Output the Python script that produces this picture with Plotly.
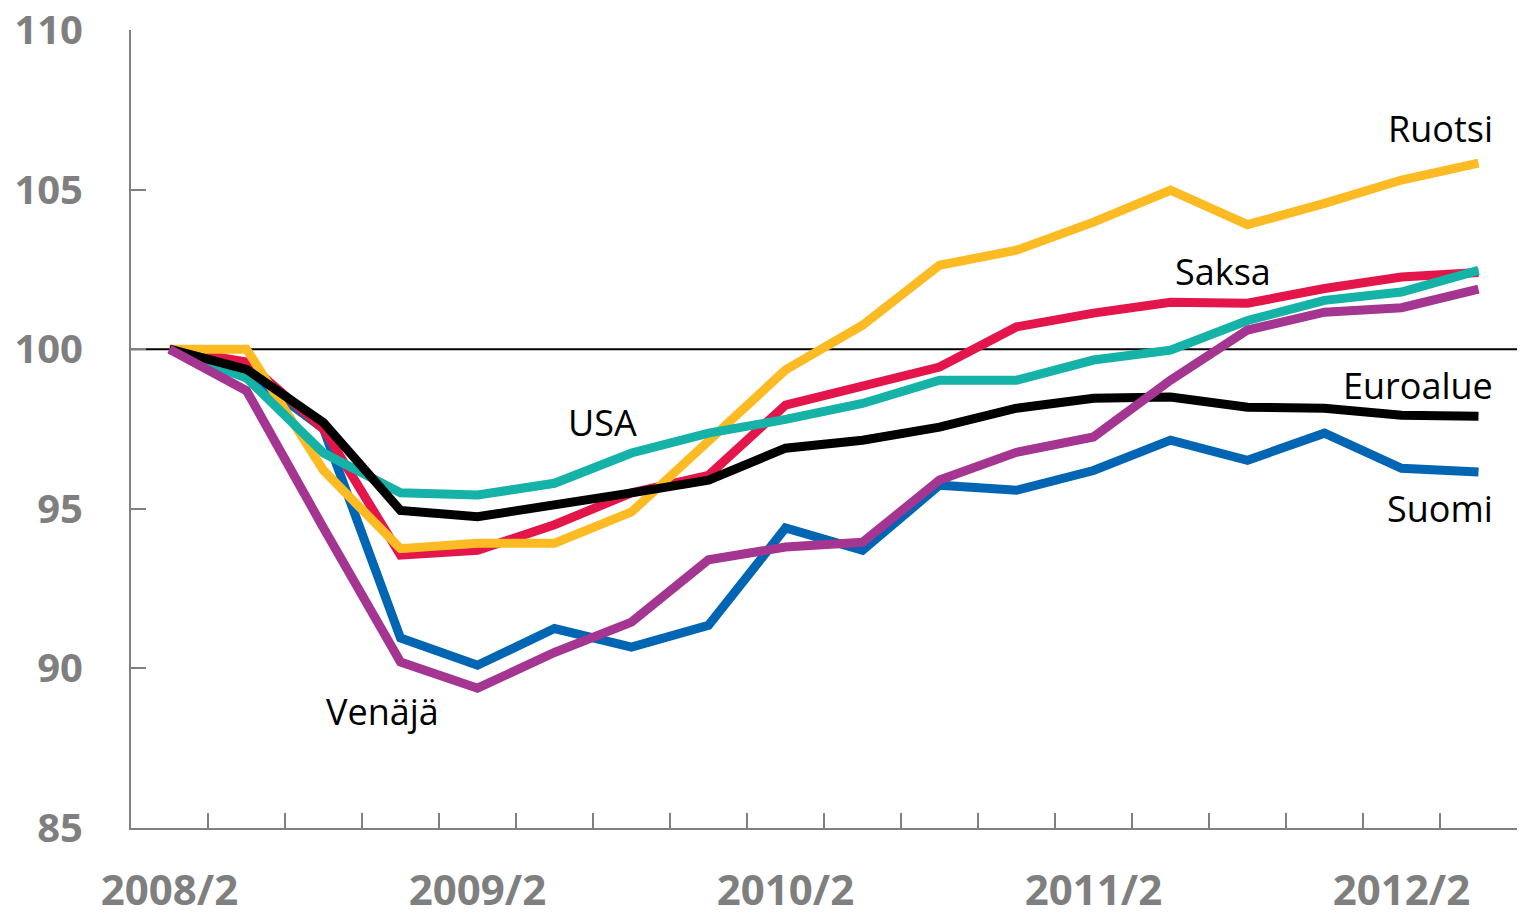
import plotly.graph_objects as go

quarters = ["2008/2", "2008/3", "2008/4", "2009/1", "2009/2", "2009/3", "2009/4", "2010/1",
            "2010/2", "2010/3", "2010/4", "2011/1", "2011/2", "2011/3", "2011/4", "2012/1",
            "2012/2", "2012/3"]

suomi = [100, 99.3, 97.5, 90.95, 90.1, 91.25, 90.67, 91.35, 94.4, 93.7, 95.74, 95.58, 96.2, 97.15, 96.52, 97.37, 96.27, 96.15]
saksa = [100, 99.6, 97.5, 93.55, 93.7, 94.5, 95.5, 96.05, 98.25, 98.87, 99.44, 100.7, 101.13, 101.47, 101.44, 101.9, 102.26, 102.4]
ruotsi = [100, 100.0, 96.2, 93.75, 93.92, 93.92, 94.9, 97.15, 99.35, 100.75, 102.63, 103.1, 103.98, 104.98, 103.9, 104.57, 105.3, 105.83]
usa = [100, 99.1, 96.75, 95.5, 95.43, 95.8, 96.75, 97.37, 97.8, 98.3, 99.03, 99.03, 99.66, 99.97, 100.9, 101.53, 101.79, 102.47]
euroalue = [100, 99.37, 97.7, 94.95, 94.75, 95.1, 95.5, 95.9, 96.9, 97.15, 97.56, 98.15, 98.46, 98.5, 98.18, 98.15, 97.93, 97.9]
venaja = [100, 98.7, 94.4, 90.2, 89.38, 90.5, 91.45, 93.4, 93.8, 93.95, 95.9, 96.77, 97.25, 99.03, 100.6, 101.16, 101.3, 101.88]

x = list(range(len(quarters)))

series = [
    ("Suomi", suomi, "#0066B3"),
    ("Saksa", saksa, "#E3154B"),
    ("Ruotsi", ruotsi, "#FDBB23"),
    ("USA", usa, "#14B2A7"),
    ("Euroalue", euroalue, "#000000"),
    ("Venäjä", venaja, "#A43591"),
]

fig = go.Figure()
for name, vals, col in series:
    fig.add_trace(go.Scatter(x=x, y=vals, mode="lines", name=name,
                             line=dict(color=col, width=9)))

fig.add_hline(y=100, line=dict(color="black", width=2), layer="below")

label_font = dict(family="Open Sans", size=36, color="black")
labels = [
    ("Ruotsi", 17.21, 106.92, "right"),
    ("Saksa", 13.68, 102.44, "center"),
    ("Euroalue", 17.21, 98.87, "right"),
    ("Suomi", 17.21, 95.02, "right"),
    ("USA", 5.62, 97.71, "center"),
    ("Venäjä", 2.77, 88.66, "center"),
]
for txt, lx, ly, anc in labels:
    fig.add_annotation(x=lx, y=ly, text=txt, showarrow=False, xanchor=anc,
                       yanchor="middle", font=label_font)

xtick_font = dict(family="Open Sans", size=42, color="#7F7F7F", weight="bold")
ytick_font = dict(family="Open Sans", size=40, color="#7F7F7F", weight="bold")

fig.update_layout(
    width=1523, height=916,
    margin=dict(l=131, r=6, t=30, b=88),
    plot_bgcolor="white", paper_bgcolor="white",
    showlegend=False,
    xaxis=dict(
        range=[-0.5, 17.5],
        automargin=False,
        tickmode="array",
        tickvals=[0, 4, 8, 12, 16],
        ticktext=[quarters[i] for i in [0, 4, 8, 12, 16]],
        ticks="inside", ticklen=0,
        showline=True, linecolor="#808080", linewidth=2,
        showgrid=False, zeroline=False,
        tickfont=xtick_font,
        ticklabelstandoff=25,
        minor=dict(tickmode="array", tickvals=[i + 0.5 for i in range(17)],
                   ticks="inside", ticklen=15, tickwidth=2, tickcolor="#808080",
                   showgrid=False),
    ),
    yaxis=dict(
        range=[85, 110],
        automargin=False,
        tickmode="array",
        tickvals=[85, 90, 95, 100, 105, 110],
        ticks="inside", ticklen=15, tickwidth=2, tickcolor="#808080",
        showline=True, linecolor="#808080", linewidth=2,
        showgrid=False, zeroline=False,
        tickfont=ytick_font,
        ticklabelstandoff=38,
    ),
)

fig.write_html("out.html", config={"displayModeBar": False},
               post_script="document.body.style.margin='0';")
